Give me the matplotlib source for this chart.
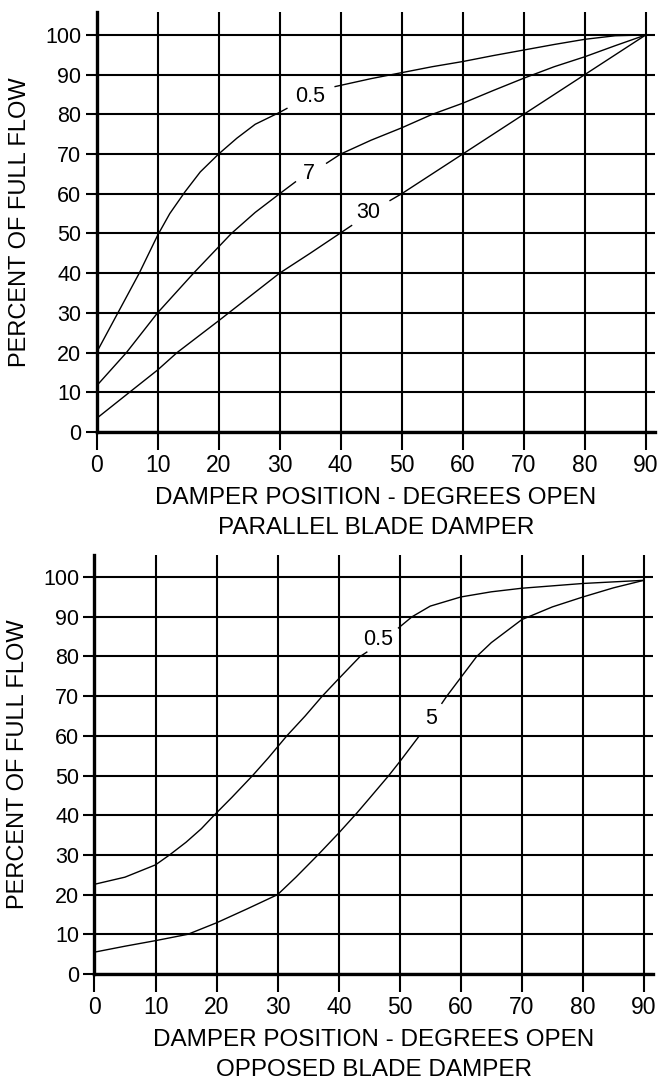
import matplotlib
matplotlib.use('Agg')

import numpy as np
import matplotlib.pyplot as plt

plt.rcParams['font.family'] = ['Liberation Sans', 'DejaVu Sans']

# damper opening, degrees
degrees = list(range(0, 91, 10))
flow_ticks = list(range(0, 101, 10))

# parallel blade damper, percent of full flow for each authority ratio
par_05_x = [0, 3.5, 7, 10, 12, 14.5, 17, 20, 23, 26, 30, 31.2, 39.1, 45, 50, 55, 60, 65, 70, 75, 80, 85, 90]
par_05_y = [20, 30, 40, 49.5, 55, 60.5, 65.5, 70, 74, 77.5, 80.5, 81.5, 87, 89, 90.5, 92, 93.3, 94.8, 96.2, 97.6, 98.9, 99.8, 100]
par_7_x = [0, 4.9, 10, 15.9, 22.1, 26, 30, 32.6, 37.7, 40, 45, 50, 55, 60, 65, 70, 75, 80, 85, 90]
par_7_y = [11.6, 20, 30, 40, 50, 55.3, 60, 63, 67.7, 70, 73.5, 76.6, 80, 82.8, 86, 89.1, 92, 94.5, 97.3, 100]
par_30_x = [0, 5.4, 10, 13.2, 20, 25, 30, 35, 41.8, 48.1, 50, 60, 70, 80, 90]
par_30_y = [3.4, 10, 15.6, 20, 28, 34, 40, 45, 52, 58.3, 60, 70, 80, 90, 100]

# opposed blade damper
opp_05_x = [0, 5, 10, 12.3, 15, 17.5, 19.6, 22.5, 25.9, 28.5, 31.5, 34.5, 37.3, 40, 43.5, 44.6,
            49.8, 52, 55, 60, 65, 70, 80, 90]
opp_05_y = [22.6, 24.4, 27.5, 30, 33.2, 36.6, 40, 44.5, 50, 54.5, 60, 65, 70, 74.4, 80, 81.1,
            87.2, 90, 92.7, 95, 96.3, 97.2, 98.4, 99.2]
opp_5_x = [0, 5, 10, 15.3, 20, 25, 30, 33, 36.6, 40, 43, 45, 48.2, 50, 53.1,
           56.9, 57.7, 60, 62.6, 65, 70, 75, 80, 85, 90]
opp_5_y = [5.5, 7, 8.4, 10, 12.9, 16.4, 20, 24.4, 30, 35.5, 40.6, 44.2, 50, 53.5, 59.8,
           68.2, 70, 74.7, 80, 83.5, 89.3, 92.5, 95, 97.3, 99.2]

# each curve: data, label text, label position, break in the line behind the label
parallel = [
    (par_05_x, par_05_y, '0.5', (35, 84.6), (31.2, 39.1)),
    (par_7_x, par_7_y, '7', (34.8, 65), (32.6, 37.7)),
    (par_30_x, par_30_y, '30', (44.6, 55.3), (41.8, 48.1)),
]
opposed = [
    (opp_05_x, opp_05_y, '0.5', (46.4, 84.2), (44.6, 49.8)),
    (opp_5_x, opp_5_y, '5', (55.2, 64.5), (53.1, 56.9)),
]


def draw_panel(ax, curves, subtitle, ytop):
    ax.set_xlim(0, 91.5)
    ax.set_ylim(0, ytop)
    ax.set_xticks(degrees)
    ax.set_yticks(flow_ticks)
    ax.grid(True, color='black', lw=1.5, zorder=1)
    ax.set_axisbelow(True)
    for s in ['top', 'right']:
        ax.spines[s].set_visible(False)
    for s in ['left', 'bottom']:
        ax.spines[s].set_linewidth(2.4)
        ax.spines[s].set_zorder(3)
    ax.tick_params(axis='x', length=13, width=1.5, pad=3, labelsize=16.5)
    ax.tick_params(axis='y', length=8, width=1.5, pad=3, labelsize=15.5)

    for xs, ys, text, (tx, ty), (g0, g1) in curves:
        xs = np.array(xs)
        ys = np.array(ys)
        lo = xs <= g0
        hi = xs >= g1
        ax.plot(xs[lo], ys[lo], color='black', lw=1.0, zorder=2)
        ax.plot(xs[hi], ys[hi], color='black', lw=1.0, zorder=2)
        ax.text(tx, ty, text, fontsize=15.5, ha='center', va='center', zorder=4)

    ax.set_xlabel('DAMPER POSITION - DEGREES OPEN\n' + subtitle,
                  fontsize=17.5, linespacing=1.5, labelpad=7)
    ax.set_ylabel('PERCENT OF FULL FLOW', fontsize=17, labelpad=10)


fig = plt.figure(figsize=(6.58, 10.84), dpi=100)
ax1 = fig.add_axes([0.1467, 0.6015, 0.8486, 0.3875])
ax2 = fig.add_axes([0.1436, 0.1015, 0.849, 0.3866])

draw_panel(ax1, parallel, 'PARALLEL BLADE DAMPER', 105.8)
draw_panel(ax2, opposed, 'OPPOSED BLADE DAMPER', 105.6)

plt.savefig('out.png', dpi=100)
